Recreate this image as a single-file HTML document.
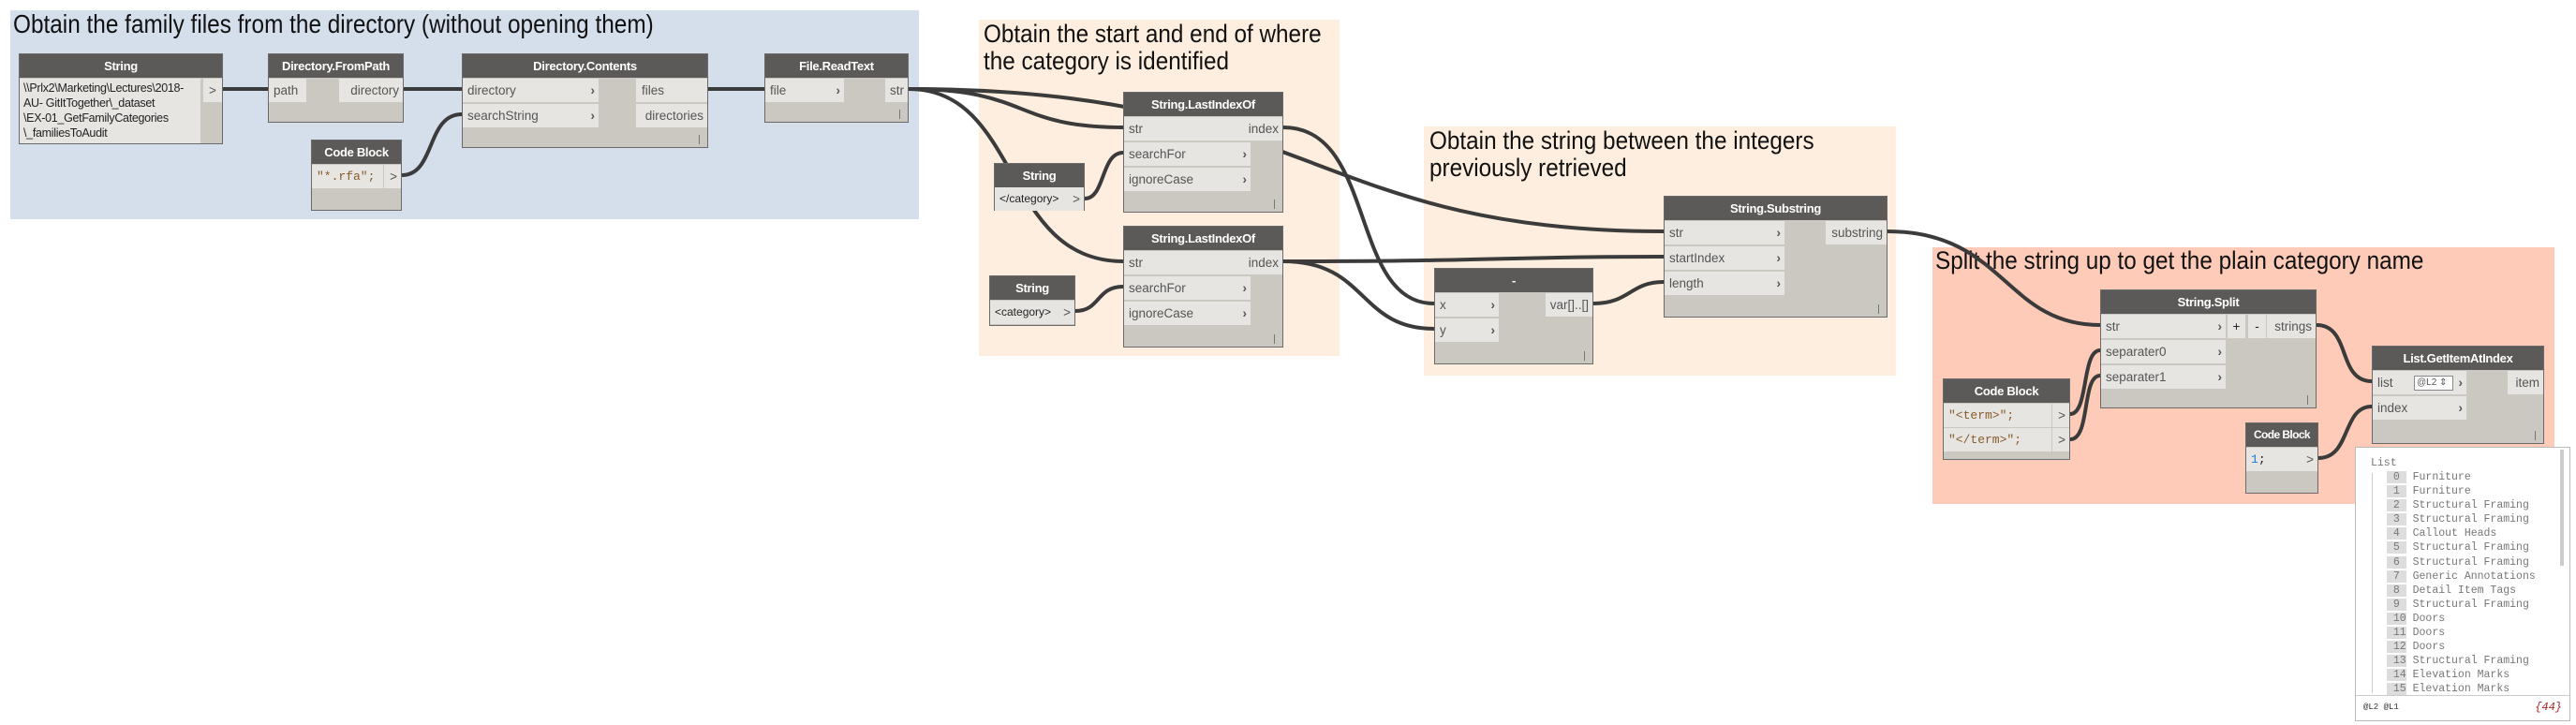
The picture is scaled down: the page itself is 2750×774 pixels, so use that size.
<!DOCTYPE html>
<html><head><meta charset="utf-8"><style>
*{margin:0;padding:0;box-sizing:border-box}
body{width:2750px;height:774px;background:#fff;position:relative;overflow:hidden;font-family:"Liberation Sans Narrow","Liberation Sans",sans-serif}
.g{position:absolute}
.t{position:absolute;color:#111;font-size:27px;line-height:29px;font-family:"Liberation Sans",sans-serif;transform:scaleX(.9);transform-origin:0 0;white-space:nowrap}
.n{position:absolute;background:#cbc7c1;border:1px solid #6a6a6a}
.h{height:25px;background:#5c5a58;color:#fff;font-weight:bold;text-align:center;font-size:13px;line-height:25px;letter-spacing:-0.3px;white-space:nowrap;overflow:hidden}
.p{position:absolute;height:25px;line-height:25px;background:#e6e5e2;font-size:13.5px;color:#555;padding-left:5px;white-space:nowrap}
.p b{position:absolute;right:4px;top:0;font-weight:bold;color:#555}
.o{position:absolute;height:25px;line-height:25px;background:#e6e5e2;font-size:13.5px;color:#555;padding-right:4px;text-align:right;white-space:nowrap}
.f{position:absolute;right:8px;bottom:3px;width:1px;height:10px;background:#777}
.mono{font-family:"Liberation Mono",monospace}
svg{position:absolute;left:0;top:0}
</style></head><body>
<div class="g" style="left:11px;top:11px;width:970px;height:223px;background:#d5dfec"></div>
<div class="g" style="left:1045px;top:21px;width:385px;height:359px;background:#fdeedf"></div>
<div class="g" style="left:1520px;top:135px;width:504px;height:266px;background:#fdeedf"></div>
<div class="g" style="left:2063px;top:264px;width:664px;height:274px;background:#fdcbb7"></div>
<div class="t" style="left:14px;top:10px;font-size:28px;line-height:31px;transform:scaleX(.87)">Obtain the family files from the directory (without opening them)</div>
<div class="t" style="left:1050px;top:22px">Obtain the start and end of where<br>the category is identified</div>
<div class="t" style="left:1526px;top:136px">Obtain the string between the integers<br>previously retrieved</div>

<svg width="2750" height="774"><g fill="none" stroke="#3b3b3b" stroke-width="4">
<path d="M238 95 L286 95"/>
<path d="M431 95 L493 95"/>
<path d="M429 187 C465 187 455 122 493 122"/>
<path d="M756 95 L816 95"/>
<path d="M970 95 C1100 95 1080 136 1199 136"/>
<path d="M970 95 C1090 95 1070 279 1199 279"/>
<path d="M970 95 C1400 95 1400 247 1776 247"/>
<path d="M1158 212 C1180 212 1175 163 1199 163"/>
<path d="M1148 332 C1175 332 1170 306 1199 306"/>
<path d="M1370 136 C1470 136 1440 324 1531 324"/>
<path d="M1370 279 C1600 279 1600 274 1776 274"/>
<path d="M1370 279 C1460 279 1450 351 1531 351"/>
<path d="M1701 324 C1740 324 1740 301 1776 301"/>
<path d="M2210 442 C2230 442 2222 374 2242 374"/>
<path d="M2210 469 C2232 469 2222 401 2242 401"/>
<path d="M2473 347 C2510 347 2495 407 2532 407"/>
<path d="M2475 489 C2510 489 2500 434 2532 434"/>
</g></svg>

<div class="n" style="left:20px;top:57px;width:218px;height:97px"><div class="h">String</div>
<div style="position:absolute;left:0;top:26px;width:193px;height:69px;background:#e6e5e2;font-size:12.5px;line-height:16px;padding:2px 4px;color:#222;letter-spacing:-0.3px;white-space:nowrap">\\Prlx2\Marketing\Lectures\2018-<br>AU- GitItTogether\_dataset<br>\EX-01_GetFamilyCategories<br>\_familiesToAudit</div>
<div class="o" style="left:196px;top:26px;width:20px;text-align:center;padding:0">&gt;</div></div>

<div class="n" style="left:286px;top:57px;width:145px;height:74px"><div class="h">Directory.FromPath</div>
<div class="p" style="left:0;top:26px;width:40px">path</div><div class="o" style="right:0;top:26px;width:68px">directory</div></div>

<div class="n" style="left:493px;top:57px;width:263px;height:101px"><div class="h">Directory.Contents</div>
<div class="p" style="left:0;top:26px;width:145px">directory<b>›</b></div>
<div class="p" style="left:0;top:53px;width:145px">searchString<b>›</b></div>
<div class="o" style="right:0;top:26px;width:76px;text-align:left;padding-left:6px">files</div>
<div class="o" style="right:0;top:53px;width:76px">directories</div><div class="f"></div></div>

<div class="n" style="left:816px;top:57px;width:154px;height:74px"><div class="h">File.ReadText</div>
<div class="p" style="left:0;top:26px;width:84px">file<b>›</b></div><div class="o" style="right:0;top:26px;width:24px">str</div><div class="f"></div></div>

<div class="n" style="left:332px;top:149px;width:97px;height:76px"><div class="h">Code Block</div>
<div class="p mono" style="left:0;top:26px;width:76px;color:#8a5a2a;font-size:13px">"*.rfa";</div><div class="o" style="right:0;top:26px;width:18px">&gt;</div></div>

<div class="n" style="left:1199px;top:98px;width:171px;height:129px"><div class="h">String.LastIndexOf</div>
<div class="p" style="left:0;top:26px;width:135px">str<b>›</b></div>
<div class="p" style="left:0;top:53px;width:135px">searchFor<b>›</b></div>
<div class="p" style="left:0;top:80px;width:135px">ignoreCase<b>›</b></div>
<div class="o" style="right:0;top:26px;width:42px">index</div><div class="f"></div></div>

<div class="n" style="left:1061px;top:174px;width:97px;height:51px"><div class="h">String</div>
<div class="p" style="left:0;top:25px;width:77px;font-size:12px;color:#222">&lt;/category&gt;</div><div class="o" style="right:0;top:25px;width:18px">&gt;</div></div>

<div class="n" style="left:1199px;top:241px;width:171px;height:130px"><div class="h">String.LastIndexOf</div>
<div class="p" style="left:0;top:26px;width:135px">str<b>›</b></div>
<div class="p" style="left:0;top:53px;width:135px">searchFor<b>›</b></div>
<div class="p" style="left:0;top:80px;width:135px">ignoreCase<b>›</b></div>
<div class="o" style="right:0;top:26px;width:42px">index</div><div class="f"></div></div>

<div class="n" style="left:1056px;top:294px;width:92px;height:54px"><div class="h">String</div>
<div class="p" style="left:0;top:26px;width:73px;font-size:12px;color:#222">&lt;category&gt;</div><div class="o" style="right:0;top:26px;width:17px">&gt;</div></div>

<div class="n" style="left:1531px;top:286px;width:170px;height:103px"><div class="h">-</div>
<div class="p" style="left:0;top:26px;width:68px">x<b>›</b></div>
<div class="p" style="left:0;top:53px;width:68px">y<b>›</b></div>
<div class="o" style="right:0;top:26px;width:50px">var[]..[]</div><div class="f"></div></div>

<div class="n" style="left:1776px;top:209px;width:239px;height:130px"><div class="h">String.Substring</div>
<div class="p" style="left:0;top:26px;width:128px">str<b>›</b></div>
<div class="p" style="left:0;top:53px;width:128px">startIndex<b>›</b></div>
<div class="p" style="left:0;top:80px;width:128px">length<b>›</b></div>
<div class="o" style="right:0;top:26px;width:65px">substring</div><div class="f"></div></div>

<div class="t" style="left:2066px;top:264px">Split the string up to get the plain category name</div>
<svg width="2750" height="774"><path d="M2015 247 C2140 247 2140 347 2242 347" fill="none" stroke="#3b3b3b" stroke-width="4"/></svg>

<div class="n" style="left:2242px;top:309px;width:231px;height:127px"><div class="h">String.Split</div>
<div class="p" style="left:0;top:26px;width:133px">str<b>›</b></div>
<div class="p" style="left:0;top:53px;width:133px">separater0<b>›</b></div>
<div class="p" style="left:0;top:80px;width:133px">separater1<b>›</b></div>
<div class="o" style="left:135px;top:26px;width:19px;text-align:center;padding:0;color:#222">+</div>
<div class="o" style="left:157px;top:26px;width:19px;text-align:center;padding:0;color:#222">-</div>
<div class="o" style="right:0;top:26px;width:52px">strings</div><div class="f"></div></div>

<div class="n" style="left:2074px;top:404px;width:136px;height:87px"><div class="h">Code Block</div>
<div class="p mono" style="left:0;top:26px;width:115px;color:#8a5a2a;font-size:13px">"&lt;term&gt;";</div>
<div class="p mono" style="left:0;top:52px;width:115px;color:#8a5a2a;font-size:13px">"&lt;/term&gt;";</div>
<div class="o" style="right:0;top:26px;width:18px">&gt;</div><div class="o" style="right:0;top:52px;width:18px">&gt;</div></div>

<div class="n" style="left:2532px;top:369px;width:184px;height:105px"><div class="h">List.GetItemAtIndex</div>
<div class="p" style="left:0;top:26px;width:100px">list<span style="position:absolute;left:44px;top:5px;width:42px;height:16px;border:1px solid #888;background:#fff;font-size:10px;line-height:14px;padding-left:2px">@L2 ⇕</span><b>›</b></div>
<div class="p" style="left:0;top:53px;width:100px">index<b>›</b></div>
<div class="o" style="right:0;top:26px;width:38px">item</div><div class="f"></div></div>

<div class="n" style="left:2397px;top:451px;width:78px;height:76px"><div class="h" style="font-size:12px;letter-spacing:-0.6px">Code Block</div>
<div class="p mono" style="left:0;top:26px;width:58px;color:#222;font-size:13px"><span style="color:#1e7ad8">1</span>;</div><div class="o" style="right:0;top:26px;width:18px">&gt;</div></div>

<div class="g" style="left:2514px;top:477px;width:230px;height:293px;background:#fff;border:1px solid #bbb;font-family:'Liberation Mono',monospace;font-size:11.5px;color:#777">
<div style="position:absolute;right:6px;top:2px;width:4px;height:124px;background:#ccc"></div>
<div style="position:absolute;left:16px;top:10px">List</div>
<div style="position:absolute;left:17px;top:27px;width:1px;height:235px;background:#ccc"></div>
<div style="position:absolute;left:33px;top:24px;line-height:15.1px;white-space:pre"><span style="background:#ddd">&nbsp;0 </span> Furniture
<span style="background:#ddd">&nbsp;1 </span> Furniture
<span style="background:#ddd">&nbsp;2 </span> Structural Framing
<span style="background:#ddd">&nbsp;3 </span> Structural Framing
<span style="background:#ddd">&nbsp;4 </span> Callout Heads
<span style="background:#ddd">&nbsp;5 </span> Structural Framing
<span style="background:#ddd">&nbsp;6 </span> Structural Framing
<span style="background:#ddd">&nbsp;7 </span> Generic Annotations
<span style="background:#ddd">&nbsp;8 </span> Detail Item Tags
<span style="background:#ddd">&nbsp;9 </span> Structural Framing
<span style="background:#ddd">&nbsp;10</span> Doors
<span style="background:#ddd">&nbsp;11</span> Doors
<span style="background:#ddd">&nbsp;12</span> Doors
<span style="background:#ddd">&nbsp;13</span> Structural Framing
<span style="background:#ddd">&nbsp;14</span> Elevation Marks
<span style="background:#ddd">&nbsp;15</span> Elevation Marks</div>
<div style="position:absolute;left:0;right:0;top:264px;height:1px;background:#ccc"></div>
<div style="position:absolute;left:8px;top:272px;font-size:9px;color:#333">@L2 @L1</div>
<div style="position:absolute;right:8px;top:270px;font-size:12px;color:#a22;font-style:italic">{44}</div>
</div>
</body></html>
